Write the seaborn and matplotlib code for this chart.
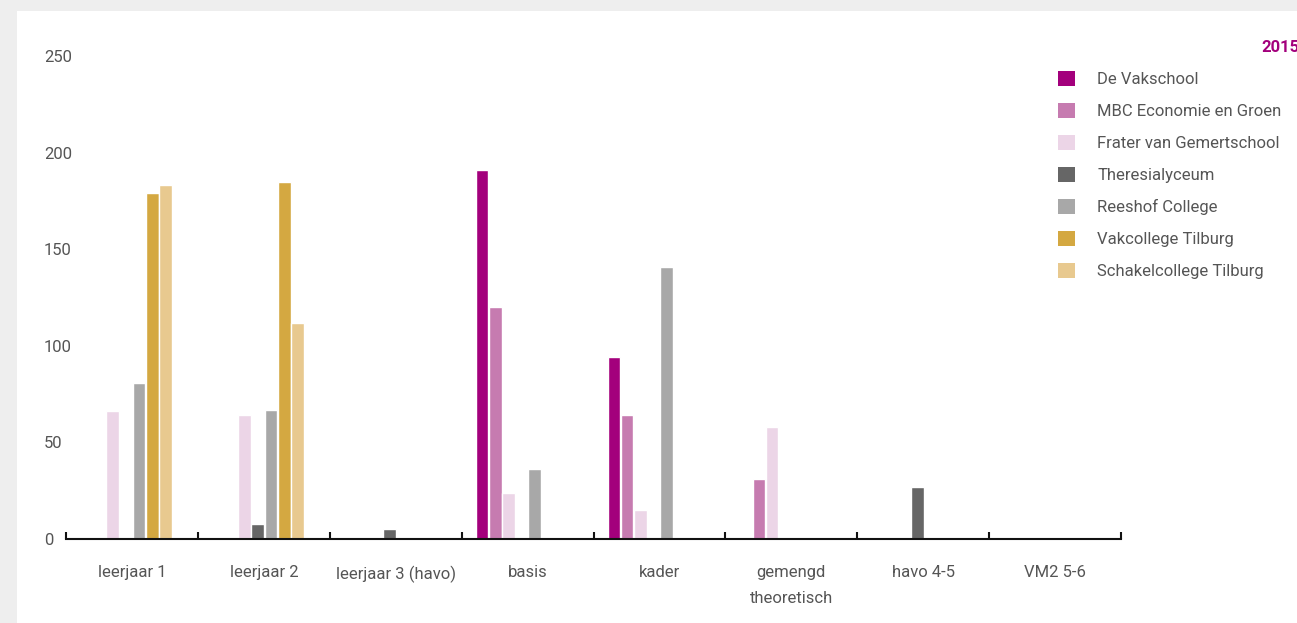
import matplotlib
matplotlib.use("Agg")
import matplotlib.pyplot as plt
import matplotlib.patches as mpatches
from matplotlib.transforms import ScaledTranslation
import pandas as pd
import seaborn as sns

categories = ["leerjaar 1", "leerjaar 2", "leerjaar 3 (havo)", "basis", "kader",
              "gemengd\ntheoretisch", "havo 4-5", "VM2 5-6"]
schools = ["De Vakschool", "MBC Economie en Groen", "Frater van Gemertschool",
           "Theresialyceum", "Reeshof College", "Vakcollege Tilburg",
           "Schakelcollege Tilburg"]
colors = ["#a3007c", "#c67bb0", "#ecd5e7", "#666666", "#a8a8a8", "#d4a841", "#e8c98f"]

de_vakschool = [0, 0, 0, 191, 94, 0, 0, 0]
mbc = [0, 0, 0, 120, 64, 31, 0, 0]
frater = [66, 64, 0, 24, 15, 58, 0, 0]
theresia = [0, 8, 5, 0, 0, 0, 27, 0]
reeshof = [81, 67, 0, 36, 141, 0, 0, 0]
vakcollege = [179, 185, 0, 0, 0, 0, 0, 0]
schakel = [183, 112, 0, 0, 0, 0, 0, 0]

series = [de_vakschool, mbc, frater, theresia, reeshof, vakcollege, schakel]
rows = []
for school, vals in zip(schools, series):
    for cat, v in zip(categories, vals):
        rows.append({"category": cat, "school": school, "value": v})
df = pd.DataFrame(rows)

sns.set_style("white")
plt.rcParams["font.family"] = ["Roboto", "DejaVu Sans"]

W, H = 1297, 623
fig = plt.figure(figsize=(W / 100, H / 100), dpi=100)
fig.patch.set_facecolor("#eeeeee")
fig.patches.append(mpatches.Rectangle((17 / W, 0), 1, 1 - 11 / H, transform=fig.transFigure,
                                      facecolor="white", edgecolor="none", zorder=-10))

ax = fig.add_axes([66 / W, 84 / H, (1121 - 66) / W, 483 / H])
ax.set_facecolor("none")
sns.barplot(data=df, x="category", y="value", hue="school", palette=colors,
            order=categories, hue_order=schools, width=0.7, gap=0.04,
            saturation=1, ax=ax, legend=False)

# bars in the original sit a little left of the category centre
shift = ScaledTranslation(-6 / 100, 0, fig.dpi_scale_trans)
for p in ax.patches:
    p.set_transform(ax.transData + shift)

ax.set_ylim(0, 250)
ax.set_xlim(-0.5, len(categories) - 0.5)
ax.set_yticks(range(0, 251, 50))
ax.set_xlabel("")
ax.set_ylabel("")
for s in ["top", "right", "left"]:
    ax.spines[s].set_visible(False)
ax.spines["bottom"].set_color("#111111")
ax.spines["bottom"].set_linewidth(1.5)

ax.tick_params(axis="y", length=0, pad=16, labelsize=12, labelcolor="#555555")
for lab in ax.get_yticklabels():
    lab.set_horizontalalignment("left")
ax.tick_params(axis="x", which="major", bottom=True, length=0, pad=19, labelsize=12,
               labelcolor="#555555")
for lab in ax.get_xticklabels():
    lab.set_linespacing(1.85)
ax.set_xticks([i - 0.5 for i in range(len(categories) + 1)], minor=True)
ax.tick_params(axis="x", which="minor", bottom=True, direction="in", length=5, width=1.5,
               color="#111111")

handles = [mpatches.Patch(facecolor=c, edgecolor="none", label=s) for s, c in zip(schools, colors)]
fig.legend(handles=handles, loc="upper left", bbox_to_anchor=(1043 / W, 1 - 56 / H),
           frameon=False, fontsize=12, labelcolor="#555555", handlelength=1.0,
           handleheight=1.0, handletextpad=1.35, labelspacing=0.95)

fig.text(1261 / W, 1 - 47 / H, "2015", color="#a3007c", fontsize=12, fontweight="bold",
         ha="left", va="center")

fig.savefig("out.png", dpi=100, facecolor=fig.get_facecolor())
